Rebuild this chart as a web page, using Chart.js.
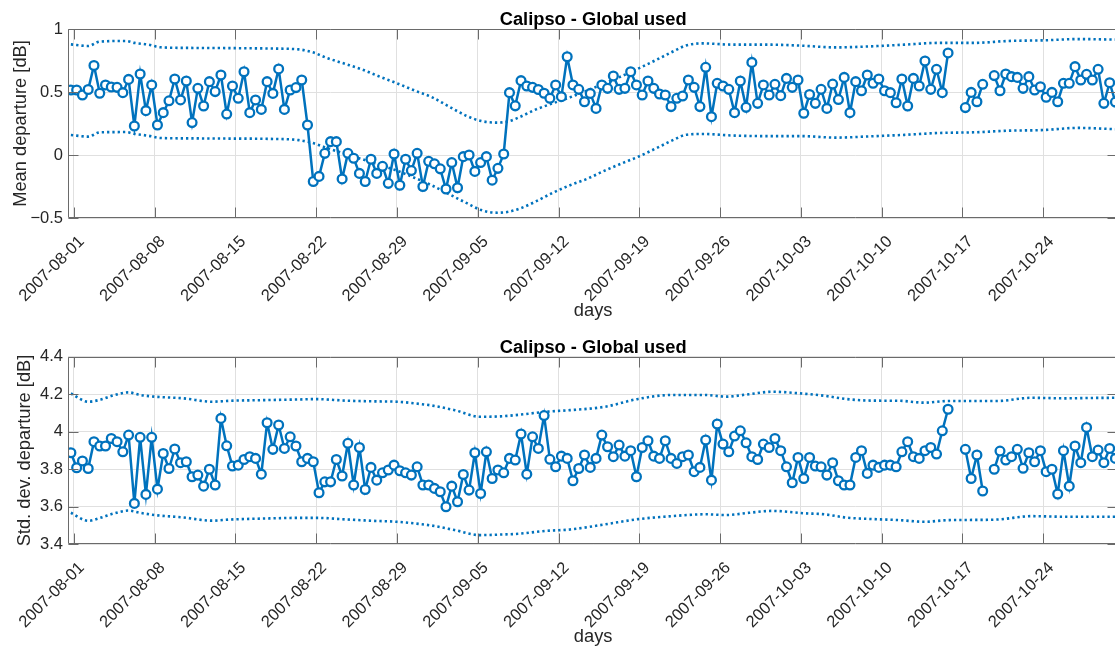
<!DOCTYPE html>
<html>
<head>
<meta charset="utf-8">
<title>Calipso - Global used</title>
<script src="https://cdn.jsdelivr.net/npm/chart.js@4/dist/chart.umd.min.js"></script>
<style>
  html, body { margin: 0; padding: 0; background: #fff; width: 1115px; height: 647px; overflow: hidden; }
  .panel { position: absolute; left: 0; }
  canvas { display: block; }
</style>
</head>
<body>
<div class="panel" style="top:0px"><canvas id="meanChart" width="1125" height="323"></canvas></div>
<div class="panel" style="top:323px"><canvas id="stdChart" width="1125" height="324"></canvas></div>
<script>
// ---- x axis: days counted from 2007-08-01 00:00 ----
const xTickDays = [0, 7, 14, 21, 28, 35, 42, 49, 56, 63, 70, 77, 84];
const xTickLabels = ['2007-08-01', '2007-08-08', '2007-08-15', '2007-08-22', '2007-08-29',
  '2007-09-05', '2007-09-12', '2007-09-19', '2007-09-26', '2007-10-03',
  '2007-10-10', '2007-10-17', '2007-10-24'];
const xRangeDays = [-0.5, 90.5];

// samples are taken twice a day, starting 2007-07-31 18:00
const sampleStartDay = -0.25;
const sampleStepDays = 0.5;

// ---- mean departure [dB] per sample (null = no data) ----
const meanDeparture = [
  0.516, 0.516, 0.476, 0.52, 0.71, 0.49, 0.556, 0.54, 0.537, 0.495,
  0.60, 0.23, 0.643, 0.352, 0.556, 0.238, 0.336, 0.43, 0.603, 0.437,
  0.587, 0.257, 0.529, 0.389, 0.582, 0.503, 0.635, 0.325, 0.548, 0.45,
  0.661, 0.336, 0.437, 0.362, 0.582, 0.489, 0.683, 0.362, 0.516, 0.535,
  0.595, 0.238, -0.21, -0.17, 0.013, 0.106, 0.106, -0.19, 0.013, -0.026,
  -0.146, -0.21, -0.034, -0.146, -0.09, -0.225, 0.008, -0.24, -0.034, -0.124,
  0.013, -0.25, -0.05, -0.07, -0.11, -0.27, -0.06, -0.26, -0.013, 0.0,
  -0.13, -0.06, -0.013, -0.2, -0.106, 0.008, 0.495, 0.39, 0.59, 0.548,
  0.537, 0.52, 0.49, 0.45, 0.556, 0.463, 0.78, 0.556, 0.521, 0.423,
  0.489, 0.37, 0.556, 0.529, 0.627, 0.521, 0.529, 0.661, 0.556, 0.476,
  0.587, 0.529, 0.484, 0.476, 0.384, 0.45, 0.468, 0.595, 0.537, 0.384,
  0.696, 0.304, 0.569, 0.548, 0.521, 0.336, 0.587, 0.378, 0.735, 0.41,
  0.556, 0.476, 0.561, 0.471, 0.608, 0.537, 0.595, 0.331, 0.48, 0.41,
  0.521, 0.37, 0.563, 0.44, 0.616, 0.336, 0.582, 0.51, 0.635, 0.569,
  0.603, 0.51, 0.495, 0.415, 0.603, 0.389, 0.608, 0.548, 0.746, 0.521,
  0.68, 0.495, 0.81, null, null, 0.376, 0.497, 0.423, 0.561, null,
  0.63, 0.51, 0.643, 0.622, 0.616, 0.529, 0.622, 0.516, 0.542, 0.458,
  0.497, 0.423, 0.569, 0.569, 0.701, 0.595, 0.64, 0.595, 0.68, 0.41,
  0.574, 0.42
];

// ---- std. dev. departure [dB] per sample (null = no data) ----
const stdDeparture = [
  3.888, 3.808, 3.844, 3.804, 3.947, 3.924, 3.924, 3.964, 3.947, 3.893,
  3.982, 3.618, 3.97, 3.666, 3.97, 3.694, 3.884, 3.804, 3.908, 3.835,
  3.84, 3.76, 3.769, 3.71, 3.8, 3.716, 4.071, 3.925, 3.817, 3.822,
  3.852, 3.867, 3.858, 3.774, 4.048, 3.906, 4.036, 3.911, 3.973, 3.924,
  3.84, 3.858, 3.84, 3.675, 3.733, 3.733, 3.852, 3.764, 3.938, 3.716,
  3.916, 3.692, 3.81, 3.742, 3.781, 3.796, 3.822, 3.792, 3.781, 3.769,
  3.813, 3.716, 3.716, 3.698, 3.68, 3.6, 3.71, 3.627, 3.772, 3.689,
  3.888, 3.671, 3.893, 3.751, 3.796, 3.781, 3.858, 3.849, 3.988, 3.774,
  3.973, 3.911, 4.086, 3.853, 3.813, 3.87, 3.858, 3.739, 3.804, 3.876,
  3.81, 3.858, 3.982, 3.92, 3.867, 3.929, 3.87, 3.899, 3.76, 3.916,
  3.952, 3.87, 3.858, 3.952, 3.858, 3.831, 3.867, 3.876, 3.787, 3.81,
  3.956, 3.742, 4.041, 3.934, 3.893, 3.977, 4.005, 3.941, 3.867, 3.852,
  3.934, 3.916, 3.964, 3.899, 3.813, 3.728, 3.863, 3.751, 3.863, 3.817,
  3.813, 3.769, 3.835, 3.739, 3.716, 3.716, 3.863, 3.899, 3.778, 3.822,
  3.81, 3.822, 3.822, 3.813, 3.893, 3.947, 3.867, 3.858, 3.899, 3.916,
  3.881, 4.005, 4.12, null, null, 3.906, 3.751, 3.876, 3.684, null,
  3.8, 3.897, 3.849, 3.867, 3.906, 3.805, 3.888, 3.84, 3.899, 3.787,
  3.8, 3.668, 3.899, 3.71, 3.924, 3.835, 4.023, 3.867, 3.902, 3.835,
  3.911, 3.858
];

// ---- envelope curves (dotted), given at their own days ----
const meanBandDays = [-0.25, 1.25, 2.25, 4.5, 5.25, 6.5, 7.5, 10, 14, 17,
  19.5, 20.7, 22, 23.5, 25, 26.5, 28, 29.5, 31, 32.5,
  34, 35.3, 36.7, 37.7, 38.7, 40, 41.5, 43, 44.5, 46,
  47.5, 49, 50.5, 52, 53, 54.5, 57, 60, 63, 66,
  69, 72, 75, 78, 81, 84, 87, 90.25];
const meanUpper = [0.878, 0.865, 0.9, 0.905, 0.89, 0.875, 0.855, 0.85, 0.848, 0.845,
  0.838, 0.815, 0.768, 0.724, 0.678, 0.622, 0.569, 0.513, 0.46, 0.385,
  0.312, 0.27, 0.257, 0.268, 0.304, 0.36, 0.41, 0.458, 0.512, 0.569,
  0.627, 0.69, 0.756, 0.825, 0.868, 0.886, 0.876, 0.876, 0.868, 0.854,
  0.862, 0.876, 0.89, 0.89, 0.905, 0.91, 0.92, 0.916];
const meanLower = [0.159, 0.146, 0.18, 0.182, 0.168, 0.152, 0.135, 0.132, 0.13, 0.128,
  0.118, 0.095, 0.053, 0.01, -0.034, -0.079, -0.124, -0.18, -0.24, -0.31,
  -0.38, -0.437, -0.458, -0.45, -0.423, -0.37, -0.3, -0.24, -0.188, -0.124,
  -0.066, -0.01, 0.055, 0.122, 0.16, 0.167, 0.155, 0.15, 0.15, 0.138,
  0.148, 0.16, 0.175, 0.18, 0.193, 0.198, 0.215, 0.205];

const stdBandDays = [-0.25, 1.25, 2.25, 3.5, 4.75, 5.75, 7, 9.5, 12, 13.5,
  17, 19.5, 21, 23.5, 26, 28, 30, 31, 33, 35.2,
  37, 38.5, 41, 43, 46, 48.9, 51.8, 54.7, 56.5, 58.5,
  60.5, 63.4, 65, 67, 69, 71.5, 73.7, 75.8, 78, 80,
  83, 85.9, 88, 90.25];
const stdUpper = [4.204, 4.16, 4.17, 4.195, 4.21, 4.196, 4.187, 4.178, 4.16, 4.165,
  4.169, 4.172, 4.174, 4.166, 4.162, 4.16, 4.148, 4.14, 4.115, 4.08,
  4.082, 4.09, 4.107, 4.115, 4.133, 4.175, 4.196, 4.196, 4.187, 4.2,
  4.213, 4.202, 4.192, 4.174, 4.166, 4.165, 4.155, 4.164, 4.164, 4.164,
  4.181, 4.178, 4.18, 4.181];
const stdLower = [3.568, 3.525, 3.54, 3.565, 3.58, 3.568, 3.556, 3.543, 3.526, 3.532,
  3.538, 3.541, 3.541, 3.533, 3.525, 3.52, 3.508, 3.5, 3.476, 3.449,
  3.452, 3.456, 3.472, 3.479, 3.506, 3.534, 3.55, 3.56, 3.556, 3.568,
  3.578, 3.565, 3.56, 3.542, 3.535, 3.529, 3.52, 3.529, 3.53, 3.532,
  3.55, 3.547, 3.547, 3.547];

// ---- y ticks ----
const meanTicks = [-0.5, 0, 0.5, 1];
const meanTickLabels = ['\u22120.5', '0', '0.5', '1'];
const stdTicks = [3.4, 3.6, 3.8, 4.0, 4.2, 4.4];
const stdTickLabels = ['3.4', '3.6', '3.8', '4', '4.2', '4.4'];

// ---- styling ----
const LINE_BLUE = '#0072BD';
const TEXT_COLOR = '#262626';
const GRID_COLOR = '#e0e0e0';
const BOX_COLOR = '#6a6a6a';
const FONT_FAMILY = '"Liberation Sans", Arial, Helvetica, sans-serif';
const TICK_FONT_PX = 16.5;
const LABEL_FONT_PX = 18.3;
const TICK_LEN = 10;
const CANVAS_W = 1125;
const PLOT_LEFT = 68;
const PLOT_RIGHT = 1121;

function toPoints(values) {
  return values.map((v, i) => ({ x: sampleStartDay + i * sampleStepDays, y: v }));
}
function toCurve(days, values) {
  return days.map((d, i) => ({ x: d, y: values[i] }));
}

// Frame, inward ticks on all four sides, title and axis texts
const axesDecor = {
  id: 'axesDecor',
  afterDatasetsDraw(chart, args, o) {
    const { ctx, chartArea: a, scales: { x, y } } = chart;
    const L = Math.round(a.left) + 0.5, R = Math.round(a.right) - 0.5;
    const T = Math.round(a.top) + 0.5, B = Math.round(a.bottom) - 0.5;
    ctx.save();
    ctx.strokeStyle = BOX_COLOR;
    ctx.lineWidth = 1;
    ctx.beginPath();
    ctx.rect(L, T, R - L, B - T);
    xTickDays.forEach(d => {
      const px = Math.round(x.getPixelForValue(d)) + 0.5;
      ctx.moveTo(px, B); ctx.lineTo(px, B - TICK_LEN);
      ctx.moveTo(px, T); ctx.lineTo(px, T + TICK_LEN);
    });
    o.yTicks.forEach(v => {
      const py = Math.round(y.getPixelForValue(v)) + 0.5;
      ctx.moveTo(L, py); ctx.lineTo(L + TICK_LEN, py);
      ctx.moveTo(R, py); ctx.lineTo(R - TICK_LEN, py);
    });
    ctx.stroke();
    ctx.restore();
  },
  afterDraw(chart, args, o) {
    const { ctx, chartArea: a, scales: { x } } = chart;
    const cx = (a.left + a.right) / 2;
    ctx.save();
    ctx.fillStyle = '#000';
    ctx.font = 'bold ' + LABEL_FONT_PX + 'px ' + FONT_FAMILY;
    ctx.textAlign = 'center';
    ctx.textBaseline = 'alphabetic';
    ctx.fillText(o.title, cx, a.top - 4);

    ctx.fillStyle = TEXT_COLOR;
    ctx.font = TICK_FONT_PX + 'px ' + FONT_FAMILY;
    ctx.textAlign = 'right';
    ctx.textBaseline = 'middle';
    xTickDays.forEach((d, i) => {
      const px = x.getPixelForValue(d);
      ctx.save();
      ctx.translate(px + o.xLabelDx, a.bottom + o.xLabelDy);
      ctx.rotate(-Math.PI / 4);
      ctx.fillText(xTickLabels[i], 0, 0);
      ctx.restore();
    });

    ctx.font = LABEL_FONT_PX + 'px ' + FONT_FAMILY;
    ctx.textAlign = 'center';
    ctx.textBaseline = 'middle';
    ctx.fillText(o.xTitle, cx, a.bottom + o.xTitleDy);

    ctx.save();
    ctx.translate(o.yTitleX, (a.top + a.bottom) / 2);
    ctx.rotate(-Math.PI / 2);
    ctx.fillText(o.yTitle, 0, 0);
    ctx.restore();
    ctx.restore();
  }
};

function makePanel(canvasId, cfg) {
  const canvas = document.getElementById(canvasId);
  const H = canvas.height;
  const dotted = {
    borderColor: LINE_BLUE,
    borderWidth: 2.6,
    borderDash: [2.3, 3.0],
    borderCapStyle: 'butt',
    pointRadius: 0,
    cubicInterpolationMode: 'monotone',
    order: 1
  };
  return new Chart(canvas, {
    type: 'line',
    data: {
      datasets: [
        {
          data: toPoints(cfg.values),
          borderColor: LINE_BLUE,
          borderWidth: 2.5,
          pointRadius: 4.4,
          pointBorderWidth: 2.3,
          pointBorderColor: LINE_BLUE,
          pointBackgroundColor: '#ffffff',
          spanGaps: false,
          tension: 0,
          order: 0
        },
        Object.assign({ data: toCurve(cfg.bandDays, cfg.upper) }, dotted),
        Object.assign({ data: toCurve(cfg.bandDays, cfg.lower) }, dotted)
      ]
    },
    options: {
      responsive: false,
      animation: false,
      devicePixelRatio: 1,
      layout: { padding: { top: cfg.plotTop, left: 0, right: CANVAS_W - PLOT_RIGHT, bottom: 0 } },
      plugins: {
        legend: { display: false },
        tooltip: { enabled: false },
        title: { display: false },
        axesDecor: {
          title: 'Calipso - Global used',
          yTitle: cfg.yTitle,
          xTitle: 'days',
          yTicks: cfg.yTicks,
          yTitleX: cfg.yTitleX,
          xLabelDx: 8,
          xLabelDy: 21,
          xTitleDy: 93
        }
      },
      scales: {
        x: {
          type: 'linear',
          min: xRangeDays[0],
          max: xRangeDays[1],
          afterBuildTicks: s => { s.ticks = xTickDays.map(v => ({ value: v })); },
          ticks: { display: false },
          grid: { color: GRID_COLOR, lineWidth: 1, drawTicks: false },
          border: { display: false },
          afterFit: s => { s.height = H - cfg.plotBottom; }
        },
        y: {
          type: 'linear',
          min: cfg.yTicks[0],
          max: cfg.yTicks[cfg.yTicks.length - 1],
          afterBuildTicks: s => { s.ticks = cfg.yTicks.map(v => ({ value: v })); },
          ticks: {
            callback: (v, i) => cfg.yTickLabels[i],
            color: TEXT_COLOR,
            font: { family: FONT_FAMILY, size: TICK_FONT_PX },
            padding: 5
          },
          grid: { color: GRID_COLOR, lineWidth: 1, drawTicks: false },
          border: { display: false },
          afterFit: s => { s.width = PLOT_LEFT; }
        }
      }
    },
    plugins: [axesDecor]
  });
}

makePanel('meanChart', {
  values: meanDeparture,
  bandDays: meanBandDays, upper: meanUpper, lower: meanLower,
  yTicks: meanTicks, yTickLabels: meanTickLabels,
  yTitle: 'Mean departure [dB]', yTitleX: 20.5,
  plotTop: 29, plotBottom: 218
});

makePanel('stdChart', {
  values: stdDeparture,
  bandDays: stdBandDays, upper: stdUpper, lower: stdLower,
  yTicks: stdTicks, yTickLabels: stdTickLabels,
  yTitle: 'Std. dev. departure [dB]', yTitleX: 25,
  plotTop: 33.7, plotBottom: 221.3
});
</script>
</body>
</html>
